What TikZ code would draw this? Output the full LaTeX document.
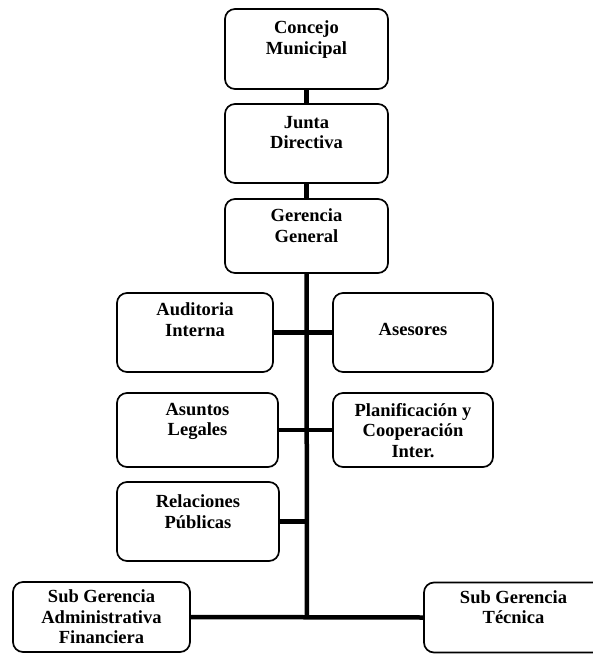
\documentclass[tikz,border=0pt]{standalone}
\usepackage{fontspec}
\setmainfont{Liberation Serif}
% Fixed-size box content: width, height, top padding, text
\newcommand{\unitlabel}[4]{\parbox[c][#2][t]{#1}{\centering\vspace*{#3}#4\par}}
\begin{document}
\begin{tikzpicture}[x=1pt,y=-1pt,
  unit/.style={draw=black, line width=1.7pt, rounded corners=10pt, inner sep=0pt,
    font=\bfseries\fontsize{18.5}{20.5}\selectfont},
  link/.style={line width=4.5pt}]
\useasboundingbox[fill=white] (0,0) rectangle (593,654);

% central chain
\node[unit] (concejo)  at (306.5,49)   {\unitlabel{163pt}{80pt}{12pt}{Concejo\\Municipal}};
\node[unit] (junta)    at (306.5,143.5){\unitlabel{163pt}{79pt}{12pt}{Junta\\Directiva}};
\node[unit] (gerencia) at (306.5,236)  {\unitlabel{163pt}{74pt}{10pt}{Gerencia\\General}};

% staff units
\node[unit] (auditoria) at (195,332.5) {\unitlabel{156pt}{79pt}{10pt}{Auditoria\\Interna}};
\node[unit] (asesores)  at (413,332.5) {\unitlabel{160pt}{79pt}{30pt}{Asesores}};
\node[unit] (asuntos)   at (197.5,430) {\unitlabel{161pt}{74pt}{10pt}{Asuntos\\Legales}};
\node[unit] (planif)    at (413,430)   {\unitlabel{160pt}{74pt}{10pt}{Planificación y\\Cooperación\\Inter.}};
\node[unit] (relaciones) at (198,521.5){\unitlabel{162pt}{79pt}{13pt}{Relaciones\\Públicas}};

% line units
\node[unit] (subadm) at (101.5,617)  {\unitlabel{177pt}{70pt}{8pt}{Sub Gerencia\\Administrativa\\Financiera}};
\node[unit] (subtec) at (513.5,617.5){\unitlabel{179pt}{70pt}{8pt}{Sub Gerencia\\Técnica}};

\coordinate (base) at (307,617);

% connectors
\draw[link] (concejo.south) -- (junta.north);
\draw[link] (junta.south) -- (gerencia.north);
\draw[link] (gerencia.south) -- (base);
\draw[link] (auditoria.east) -- (asesores.west);
\draw[link] (asuntos.east) -- (planif.west);
\draw[link] (relaciones.east) -- (relaciones.east -| base);
\draw[link] (subadm.east) -- (subtec.west);
\end{tikzpicture}
\end{document}
